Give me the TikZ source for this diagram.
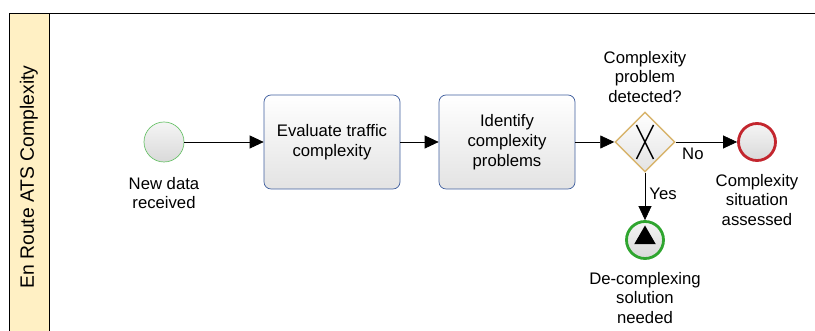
\documentclass[tikz,border=0pt]{standalone}
\usepackage{fontspec}
\setmainfont{Liberation Sans}
\usetikzlibrary{shapes.geometric, positioning, arrows.meta}

\definecolor{laneyellow}{HTML}{FFF0C4}
\definecolor{taskblue}{HTML}{3F5E9E}
\definecolor{startgreen}{HTML}{6CC36C}
\definecolor{endred}{HTML}{C3262E}
\definecolor{signalgreen}{HTML}{2FA52F}
\definecolor{gatewaygold}{HTML}{D8B46C}

\tikzset{
  task/.style={draw=taskblue, rounded corners=4pt, top color=white, bottom color=gray!22,
    minimum width=2.72cm, minimum height=1.88cm, align=center, font=\fontsize{9.5}{11.5}\selectfont},
  event/.style={circle, minimum size=0.8cm, inner sep=0pt, top color=gray!8, bottom color=gray!30},
  gateway/.style={diamond, draw=gatewaygold, thick, minimum size=1.2cm, inner sep=0pt, top color=white, bottom color=gray!22},
  label/.style={align=center, font=\fontsize{9.5}{11}\selectfont},
  flow/.style={-{Triangle[length=0.28cm, width=0.26cm]}}
}

\begin{document}
\begin{tikzpicture}
  \useasboundingbox (0,0) rectangle (16.3,-6.62);

  % lane
  \draw[fill=laneyellow] (0.18,-6.7) -- (0.18,-0.26) -- (0.98,-0.26) -- (0.98,-6.7);
  \draw (0.98,-0.26) -- (16.4,-0.26);
  \node[rotate=90, font=\fontsize{11}{13}\selectfont] (LaneName) at (0.58,-3.54) {En Route ATS Complexity};

  % events and tasks
  \node[event, draw=startgreen] (Start) at (3.28,-2.84) {};
  \node[task] (Evaluate) at (6.64,-2.84) {Evaluate traffic\\complexity};
  \node[task] (Identify) at (10.14,-2.84) {Identify\\complexity\\problems};
  \node[gateway] (Detected) at (12.9,-2.84) {};
  \node[event, draw=endred, line width=1.6pt, minimum size=0.74cm] (Assessed) at (15.14,-2.84) {};
  \node[event, draw=signalgreen, line width=1.6pt, minimum size=0.74cm] (Needed) at (12.9,-4.8) {};
  \node[regular polygon, regular polygon sides=3, fill=black, minimum size=0.5cm, inner sep=0pt] (Signal) at (12.9,-4.76) {};

  % exclusive marker
  \draw[thick] ([shift={(-0.17,0.34)}]Detected.center) -- ([shift={(0.17,-0.34)}]Detected.center);
  \draw[thick] ([shift={(0.17,0.34)}]Detected.center) -- ([shift={(-0.17,-0.34)}]Detected.center);

  % labels
  \node[label] (StartText) at (3.28,-3.86) {New data\\received};
  \node[label] (DetectedText) at (12.9,-1.54) {Complexity\\problem\\detected?};
  \node[label] (AssessedText) at (15.14,-4.0) {Complexity\\situation\\assessed};
  \node[label] (NeededText) at (12.9,-5.96) {De-complexing\\solution\\needed};

  % flows
  \draw[flow] (Start) -- (Evaluate);
  \draw[flow] (Evaluate) -- (Identify);
  \draw[flow] (Identify) -- (Detected);
  \draw[flow] (Detected) -- (Assessed) node[label, pos=0.28, below] {No};
  \draw[flow] (Detected) -- (Needed) node[label, pos=0.45, right, xshift=-1pt] {Yes};

\end{tikzpicture}
\end{document}
